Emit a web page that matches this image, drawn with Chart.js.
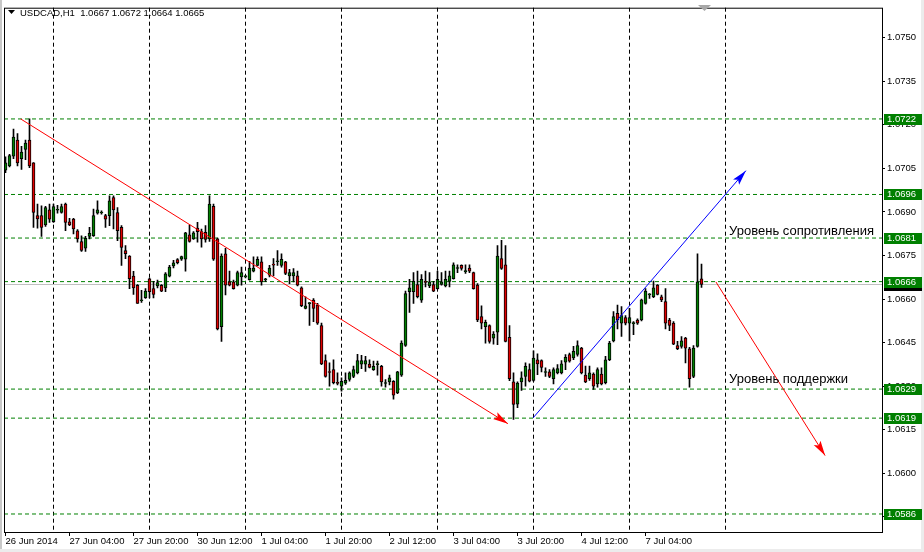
<!DOCTYPE html>
<html>
<head>
<meta charset="utf-8">
<script src="https://cdn.jsdelivr.net/npm/chart.js@4.4.1/dist/chart.umd.min.js"></script>
<style>
  html, body { margin: 0; padding: 0; background: #fff; }
  #wrap { width: 924px; height: 552px; }
</style>
</head>
<body>
<div id="wrap"><canvas id="myChart" width="924" height="552"></canvas></div>
<script>
// USDCAD H1, 26 Jun 2014 12:00 ... 7 Jul 2014 18:00 (one value per hourly bar)

const header = 'USDCAD,H1  1.0667 1.0672 1.0664 1.0665';

const open = [
  1.07044,1.07058,1.07092,1.07147,1.07083,1.07115,1.07147,1.07069,1.06887,1.06887,
  1.06855,1.06907,1.06866,1.06907,1.06898,1.06927,1.06866,1.06875,1.06835,1.06798,
  1.06775,1.06816,1.06818,1.06896,1.06898,1.06887,1.06887,1.06949,1.06898,1.06847,
  1.06767,1.06748,1.06679,1.06647,1.06596,1.06605,1.06670,1.06636,1.06645,1.06647,
  1.06638,1.06679,1.06714,1.06736,1.06737,1.06737,1.06821,1.06807,1.06844,1.06832,
  1.06830,1.06807,1.06919,1.06807,1.06505,1.06756,1.06659,1.06659,1.06648,1.06676,
  1.06678,1.06667,1.06696,1.06716,1.06728,1.06668,1.06682,1.06719,1.06730,1.06716,
  1.06728,1.06680,1.06680,1.06680,1.06639,1.06568,1.06586,1.06596,1.06579,1.06509,
  1.06388,1.06350,1.06357,1.06313,1.06300,1.06310,1.06323,1.06334,1.06346,1.06376,
  1.06376,1.06376,1.06357,1.06376,1.06368,1.06311,1.06315,1.06317,1.06277,1.06338,
  1.06440,1.06625,1.06625,1.06650,1.06596,1.06660,1.06645,1.06650,1.06636,1.06650,
  1.06645,1.06661,1.06670,1.06707,1.06716,1.06696,1.06707,1.06691,1.06648,1.06540,
  1.06505,1.06509,1.06465,1.06486,1.06739,1.06718,1.06468,1.06315,1.06238,1.06315,
  1.06334,1.06357,1.06320,1.06391,1.06388,1.06349,1.06349,1.06326,1.06346,1.06346,
  1.06383,1.06409,1.06397,1.06409,1.06431,1.06338,1.06326,1.06342,1.06308,1.06342,
  1.06312,1.06391,1.06456,1.06551,1.06517,1.06536,1.06517,1.06517,1.06528,1.06528,
  1.06585,1.06616,1.06608,1.06648,1.06608,1.06591,1.06528,1.06517,1.06440,1.06437,
  1.06466,1.06429,1.06334,1.06437,1.06670
];
const high = [
  1.07090,1.07098,1.07185,1.07170,1.07126,1.07147,1.07220,1.07070,1.06927,1.06921,
  1.06919,1.06927,1.06927,1.06923,1.06927,1.06930,1.06878,1.06878,1.06839,1.06818,
  1.06816,1.06847,1.06910,1.06938,1.06904,1.06892,1.06955,1.06955,1.06915,1.06853,
  1.06784,1.06750,1.06695,1.06650,1.06630,1.06636,1.06672,1.06661,1.06665,1.06650,
  1.06691,1.06716,1.06733,1.06739,1.06748,1.06830,1.06855,1.06832,1.06864,1.06841,
  1.06853,1.06955,1.06927,1.06810,1.06756,1.06775,1.06696,1.06665,1.06696,1.06710,
  1.06682,1.06730,1.06745,1.06745,1.06745,1.06671,1.06716,1.06739,1.06767,1.06756,
  1.06730,1.06702,1.06705,1.06696,1.06642,1.06608,1.06588,1.06602,1.06585,1.06517,
  1.06408,1.06380,1.06391,1.06346,1.06329,1.06346,1.06349,1.06369,1.06410,1.06406,
  1.06403,1.06391,1.06386,1.06386,1.06372,1.06323,1.06338,1.06319,1.06351,1.06456,
  1.06627,1.06668,1.06691,1.06696,1.06684,1.06696,1.06691,1.06661,1.06696,1.06691,
  1.06696,1.06696,1.06725,1.06718,1.06718,1.06718,1.06718,1.06693,1.06653,1.06577,
  1.06528,1.06511,1.06488,1.06784,1.06802,1.06784,1.06509,1.06346,1.06315,1.06349,
  1.06380,1.06377,1.06422,1.06411,1.06391,1.06363,1.06357,1.06363,1.06374,1.06388,
  1.06409,1.06414,1.06437,1.06456,1.06434,1.06369,1.06369,1.06346,1.06363,1.06363,
  1.06403,1.06454,1.06557,1.06579,1.06574,1.06543,1.06568,1.06522,1.06532,1.06600,
  1.06636,1.06619,1.06662,1.06650,1.06614,1.06636,1.06534,1.06522,1.06454,1.06471,
  1.06468,1.06434,1.06440,1.06756,1.06720
];
const low = [
  1.07035,1.07055,1.07083,1.07058,1.07046,1.07080,1.07052,1.06847,1.06844,1.06816,
  1.06850,1.06864,1.06864,1.06896,1.06896,1.06835,1.06853,1.06824,1.06796,1.06764,
  1.06764,1.06807,1.06816,1.06892,1.06892,1.06847,1.06853,1.06841,1.06801,1.06716,
  1.06739,1.06636,1.06616,1.06585,1.06588,1.06602,1.06604,1.06604,1.06638,1.06625,
  1.06625,1.06676,1.06707,1.06721,1.06733,1.06696,1.06796,1.06805,1.06796,1.06779,
  1.06796,1.06798,1.06733,1.06494,1.06454,1.06614,1.06645,1.06634,1.06645,1.06648,
  1.06673,1.06665,1.06693,1.06714,1.06648,1.06660,1.06676,1.06680,1.06716,1.06710,
  1.06684,1.06653,1.06659,1.06645,1.06574,1.06566,1.06509,1.06522,1.06513,1.06374,
  1.06331,1.06300,1.06308,1.06304,1.06283,1.06306,1.06317,1.06329,1.06342,1.06360,
  1.06351,1.06363,1.06354,1.06338,1.06300,1.06297,1.06304,1.06255,1.06274,1.06334,
  1.06437,1.06554,1.06585,1.06604,1.06588,1.06642,1.06639,1.06625,1.06634,1.06648,
  1.06642,1.06642,1.06668,1.06691,1.06699,1.06688,1.06691,1.06634,1.06522,1.06497,
  1.06448,1.06448,1.06445,1.06443,1.06702,1.06452,1.06319,1.06186,1.06226,1.06285,
  1.06300,1.06315,1.06317,1.06340,1.06349,1.06334,1.06329,1.06308,1.06342,1.06342,
  1.06357,1.06383,1.06391,1.06403,1.06342,1.06312,1.06320,1.06289,1.06297,1.06304,
  1.06308,1.06388,1.06452,1.06497,1.06471,1.06511,1.06456,1.06477,1.06513,1.06525,
  1.06582,1.06602,1.06605,1.06614,1.06591,1.06497,1.06491,1.06443,1.06426,1.06431,
  1.06380,1.06297,1.06329,1.06434,1.06640
];
const close = [
  1.07069,1.07094,1.07158,1.07069,1.07106,1.07137,1.07058,1.06898,1.06876,1.06847,
  1.06915,1.06875,1.06918,1.06908,1.06918,1.06864,1.06855,1.06841,1.06807,1.06767,
  1.06809,1.06826,1.06887,1.06907,1.06898,1.06875,1.06938,1.06907,1.06835,1.06778,
  1.06756,1.06670,1.06638,1.06585,1.06596,1.06627,1.06625,1.06616,1.06657,1.06627,
  1.06687,1.06710,1.06725,1.06725,1.06746,1.06828,1.06798,1.06828,1.06832,1.06807,
  1.06805,1.06927,1.06737,1.06497,1.06748,1.06648,1.06648,1.06636,1.06691,1.06691,
  1.06678,1.06707,1.06707,1.06737,1.06659,1.06668,1.06707,1.06718,1.06730,1.06737,
  1.06688,1.06691,1.06691,1.06648,1.06577,1.06577,1.06586,1.06568,1.06517,1.06377,
  1.06334,1.06348,1.06312,1.06310,1.06317,1.06320,1.06346,1.06357,1.06388,1.06388,
  1.06388,1.06365,1.06368,1.06376,1.06315,1.06311,1.06329,1.06269,1.06349,1.06448,
  1.06619,1.06639,1.06661,1.06608,1.06668,1.06658,1.06659,1.06627,1.06668,1.06659,
  1.06668,1.06680,1.06718,1.06707,1.06705,1.06696,1.06696,1.06636,1.06528,1.06517,
  1.06520,1.06454,1.06479,1.06748,1.06705,1.06454,1.06326,1.06237,1.06311,1.06329,
  1.06368,1.06317,1.06397,1.06377,1.06365,1.06349,1.06334,1.06357,1.06361,1.06377,
  1.06399,1.06386,1.06420,1.06440,1.06346,1.06315,1.06346,1.06300,1.06357,1.06308,
  1.06391,1.06448,1.06540,1.06528,1.06543,1.06517,1.06536,1.06517,1.06517,1.06597,
  1.06627,1.06616,1.06639,1.06616,1.06597,1.06517,1.06509,1.06445,1.06429,1.06456,
  1.06431,1.06326,1.06431,1.06659,1.06650
];

// time axis: label every 16 bars, day grid every 24 bars
const timeLabels = ['26 Jun 2014', '27 Jun 04:00', '27 Jun 20:00', '30 Jun 12:00', '1 Jul 04:00',
  '1 Jul 20:00', '2 Jul 12:00', '3 Jul 04:00', '3 Jul 20:00', '4 Jul 12:00', '7 Jul 04:00'];
const timeTickBars = [0, 16, 32, 48, 64, 80, 96, 112, 128, 144, 160];
const gridBars = [12, 36, 60, 84, 108, 132, 156, 180];

const priceTicks = [1.0585, 1.0600, 1.0615, 1.0630, 1.0645, 1.0660, 1.0675, 1.0690, 1.0705, 1.0720, 1.0735, 1.0750];

// horizontal levels and the bid line
const levels = [1.0722, 1.0696, 1.0681, 1.0666, 1.0629, 1.0619, 1.0586];
const bid = 1.0665;

// arrow lines [bar, price]
const downTrend = [[3.8, 1.07220], [125.6, 1.06171]];
const upTrend = [[131.9, 1.06191], [185.1, 1.07042]];
const forecast = [[177.6, 1.06659], [204.9, 1.06061]];

// text notes [bar, price]
const notes = ['Уровень сопротивления', 'Уровень поддержки'];
const notePos = [[180.9, 1.06834], [180.9, 1.06324]];

const xMin = -0.375, xMax = 219.125;
const yMin = 1.05798, yMax = 1.07603;

const bull = '#008000';
const bear = '#e00000';
const font9 = { family: 'Liberation Sans', size: 9.5 };

function bodyRange(o, c) {
  if (Math.abs(o - c) < 0.00003) {
    const m = (o + c) / 2;
    return [m - 0.000017, m + 0.000017];
  }
  return [o, c];
}

const wicks = open.map((o, i) => ({ x: i, y: [low[i], high[i]] }));
const bodies = open.map((o, i) => ({ x: i, y: bodyRange(o, close[i]) }));
const bodyColors = open.map((o, i) => close[i] >= o ? bull : bear);

const toXY = arr => arr.map(([x, y]) => ({ x, y }));

const datasets = [];

levels.forEach(lv => {
  datasets.push({
    type: 'line',
    data: [{ x: xMin, y: lv }, { x: xMax, y: lv }],
    borderColor: '#008000',
    borderWidth: 1,
    borderDash: [4, 3],
    pointRadius: 0,
    order: 4
  });
});

datasets.push({
  type: 'line',
  data: [{ x: xMin, y: bid }, { x: xMax, y: bid }],
  borderColor: '#c0c0c0',
  borderWidth: 1,
  pointRadius: 0,
  order: 5
});

datasets.push({
  type: 'bar',
  data: wicks,
  backgroundColor: '#000',
  barThickness: 1,
  grouped: false,
  order: 2
});

datasets.push({
  type: 'bar',
  data: bodies,
  backgroundColor: bodyColors,
  borderColor: '#000',
  borderWidth: 1,
  borderSkipped: false,
  barThickness: 3,
  grouped: false,
  order: 1
});

const arrows = [
  { pts: downTrend, color: '#ff0000' },
  { pts: upTrend, color: '#0000ff' },
  { pts: forecast, color: '#ff0000' }
];

arrows.forEach(a => {
  datasets.push({
    type: 'line',
    data: toXY(a.pts),
    borderColor: a.color,
    borderWidth: 1,
    pointRadius: 0,
    order: 0
  });
});

// arrow heads, frame, price tags, header and notes
const decor = {
  id: 'decor',
  beforeDraw(chart) {
    const c = chart.ctx;
    c.save();
    c.fillStyle = '#fff';
    c.fillRect(0, 0, chart.width, chart.height);
    c.fillStyle = '#c8c8c8';
    c.fillRect(0, 0, 2, chart.height);
    c.fillStyle = '#ececec';
    c.fillRect(0, 549, chart.width, 3);
    c.fillRect(921, 0, 3, chart.height);
    c.restore();
  },
  afterDatasetsDraw(chart) {
    const c = chart.ctx, sx = chart.scales.x, sy = chart.scales.y;
    const area = chart.chartArea;
    c.save();
    c.beginPath();
    c.rect(area.left, area.top, area.right - area.left, area.bottom - area.top);
    c.clip();
    arrows.forEach(a => {
      const x0 = sx.getPixelForValue(a.pts[0][0]), y0 = sy.getPixelForValue(a.pts[0][1]);
      const x1 = sx.getPixelForValue(a.pts[1][0]), y1 = sy.getPixelForValue(a.pts[1][1]);
      const len = Math.hypot(x1 - x0, y1 - y0);
      const ux = (x1 - x0) / len, uy = (y1 - y0) / len;
      const L = 15, W = 4;
      c.fillStyle = a.color;
      c.beginPath();
      c.moveTo(x1, y1);
      c.lineTo(x1 - ux * L - uy * W, y1 - uy * L + ux * W);
      c.lineTo(x1 - ux * L * 0.8, y1 - uy * L * 0.8);
      c.lineTo(x1 - ux * L + uy * W, y1 - uy * L - ux * W);
      c.closePath();
      c.fill();
    });
    c.restore();
  },
  afterDraw(chart) {
    const c = chart.ctx, sx = chart.scales.x, sy = chart.scales.y;
    const area = chart.chartArea;
    c.save();

    // frame
    c.strokeStyle = '#000';
    c.lineWidth = 1;
    c.strokeRect(area.left + 0.5, area.top + 0.5, area.right - area.left, area.bottom - area.top);

    // shift marker
    c.fillStyle = '#a8a8a8';
    c.beginPath();
    c.moveTo(698, 5); c.lineTo(711, 5); c.lineTo(704.5, 11); c.closePath();
    c.fill();

    // header
    c.fillStyle = '#000';
    c.beginPath();
    c.moveTo(8, 10); c.lineTo(15, 10); c.lineTo(11.5, 14); c.closePath();
    c.fill();
    c.font = '9.5px "Liberation Sans"';
    c.textBaseline = 'middle';
    c.textAlign = 'left';
    c.fillText(header, 20, 13);

    // notes
    c.font = '13px "Liberation Sans"';
    notes.forEach((t, i) => {
      c.fillText(t, sx.getPixelForValue(notePos[i][0]), sy.getPixelForValue(notePos[i][1]));
    });

    // price tags on the axis
    c.font = '9.5px "Liberation Sans"';
    const tag = (price, bg) => {
      const y = Math.round(sy.getPixelForValue(price));
      c.fillStyle = bg;
      c.fillRect(area.right + 2, y - 5, 38, 11);
      c.fillStyle = '#fff';
      c.fillText(price.toFixed(4), area.right + 5, y + 0.5);
    };
    tag(bid, '#000');
    levels.forEach(lv => tag(lv, '#008000'));

    c.restore();
  }
};

const ctx = document.getElementById('myChart');

const myChart = new Chart(ctx, {
  type: 'bar',
  data: { datasets },
  options: {
    responsive: false,
    animation: false,
    devicePixelRatio: 1,
    layout: { padding: { left: 4, top: 4, right: 0, bottom: 0 } },
    plugins: { legend: { display: false }, tooltip: { enabled: false } },
    scales: {
      x: {
        type: 'linear',
        position: 'bottom',
        min: xMin,
        max: xMax,
        offset: false,
        afterFit: s => { s.height = 20; },
        afterBuildTicks: s => { s.ticks = timeTickBars.map(v => ({ value: v })); },
        ticks: {
          callback: v => timeLabels[timeTickBars.indexOf(v)],
          autoSkip: false,
          maxRotation: 0,
          align: 'start',
          padding: 0,
          color: '#000',
          font: font9
        },
        grid: { drawOnChartArea: false, tickLength: 4, tickColor: '#000', offset: false },
        border: { display: false }
      },
      xg: {
        type: 'linear',
        position: 'bottom',
        min: xMin,
        max: xMax,
        offset: false,
        afterFit: s => { s.height = 0; },
        afterBuildTicks: s => { s.ticks = gridBars.map(v => ({ value: v })); },
        ticks: { display: false },
        grid: { drawTicks: false, color: '#000', lineWidth: 1, offset: false },
        border: { display: false, dash: [4, 3] }
      },
      y: {
        type: 'linear',
        position: 'right',
        min: yMin,
        max: yMax,
        afterFit: s => { s.width = 42; },
        afterBuildTicks: s => { s.ticks = priceTicks.map(v => ({ value: v })); },
        ticks: { callback: v => v.toFixed(4), padding: 2, color: '#000', font: font9 },
        grid: { drawOnChartArea: false, tickLength: 3, tickColor: '#000' },
        border: { display: false }
      }
    }
  },
  plugins: [decor]
});
</script>
</body>
</html>
